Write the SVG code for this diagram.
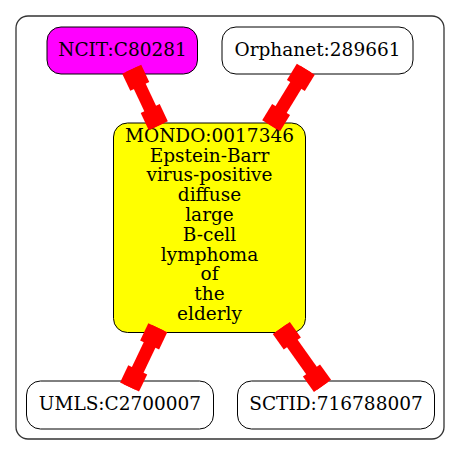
<svg xmlns="http://www.w3.org/2000/svg" width="461" height="456" viewBox="0 0 461 456">
<style>
.cluster{fill:#ffffff;stroke:#333333;stroke-width:1.3}
.node{stroke:#000000;stroke-width:1}
.lbl{font-family:"DejaVu Serif",serif;font-size:18.5px;fill:#000000;text-anchor:middle}
.edge rect{fill:#ff0000;stroke:none}
</style>
<rect width="461" height="456" fill="#ffffff"/>
<rect class="cluster" x="16" y="16" width="428" height="423" rx="12" ry="12"/>
<g id="ncit">
<rect class="node" x="47" y="27" width="150.5" height="47" rx="14" ry="14" fill="#ff00ff"/>
<text class="lbl" x="122.5" y="56">NCIT:C80281</text>
</g>
<g id="orphanet">
<rect class="node" x="222" y="27" width="191" height="47" rx="14" ry="14" fill="#ffffff"/>
<text class="lbl" x="317.5" y="56">Orphanet:289661</text>
</g>
<g id="mondo">
<rect class="node" x="113.5" y="123" width="192" height="209.5" rx="14" ry="14" fill="#ffff00"/>
<text class="lbl" x="209.5" y="141.7">MONDO:0017346</text>
<text class="lbl" x="209.5" y="161.5">Epstein-Barr</text>
<text class="lbl" x="209.5" y="181.3">virus-positive</text>
<text class="lbl" x="209.5" y="201.1">diffuse</text>
<text class="lbl" x="209.5" y="220.9">large</text>
<text class="lbl" x="209.5" y="240.7">B-cell</text>
<text class="lbl" x="209.5" y="260.5">lymphoma</text>
<text class="lbl" x="209.5" y="280.3">of</text>
<text class="lbl" x="209.5" y="300.1">the</text>
<text class="lbl" x="209.5" y="319.9">elderly</text>
</g>
<g id="umls">
<rect class="node" x="26.5" y="381" width="187" height="48" rx="14" ry="14" fill="#ffffff"/>
<text class="lbl" x="120" y="410">UMLS:C2700007</text>
</g>
<g id="sctid">
<rect class="node" x="237.5" y="381" width="197" height="48" rx="14" ry="14" fill="#ffffff"/>
<text class="lbl" x="336" y="410">SCTID:716788007</text>
</g>
<g id="edges" class="edge">
<g transform="translate(131.7,69.2) rotate(64.8)">
<rect x="0" y="-10.5" width="19" height="21"/><rect x="0" y="-6.5" width="62.5" height="13"/><rect x="43.5" y="-10.5" width="19" height="21"/>
</g>
<g transform="translate(305.8,69.2) rotate(121.5)">
<rect x="0" y="-10.5" width="19" height="21"/><rect x="0" y="-6.5" width="66.3" height="13"/><rect x="47.3" y="-10.5" width="19" height="21"/>
</g>
<g transform="translate(157.8,327.8) rotate(115.5)">
<rect x="0" y="-10.5" width="19" height="21"/><rect x="0" y="-6.5" width="65.6" height="13"/><rect x="46.6" y="-10.5" width="19" height="21"/>
</g>
<g transform="translate(281.3,328) rotate(54.6)">
<rect x="0" y="-10.5" width="19" height="21"/><rect x="0" y="-6.5" width="71.1" height="13"/><rect x="52.1" y="-10.5" width="19" height="21"/>
</g>
</g>
</svg>
